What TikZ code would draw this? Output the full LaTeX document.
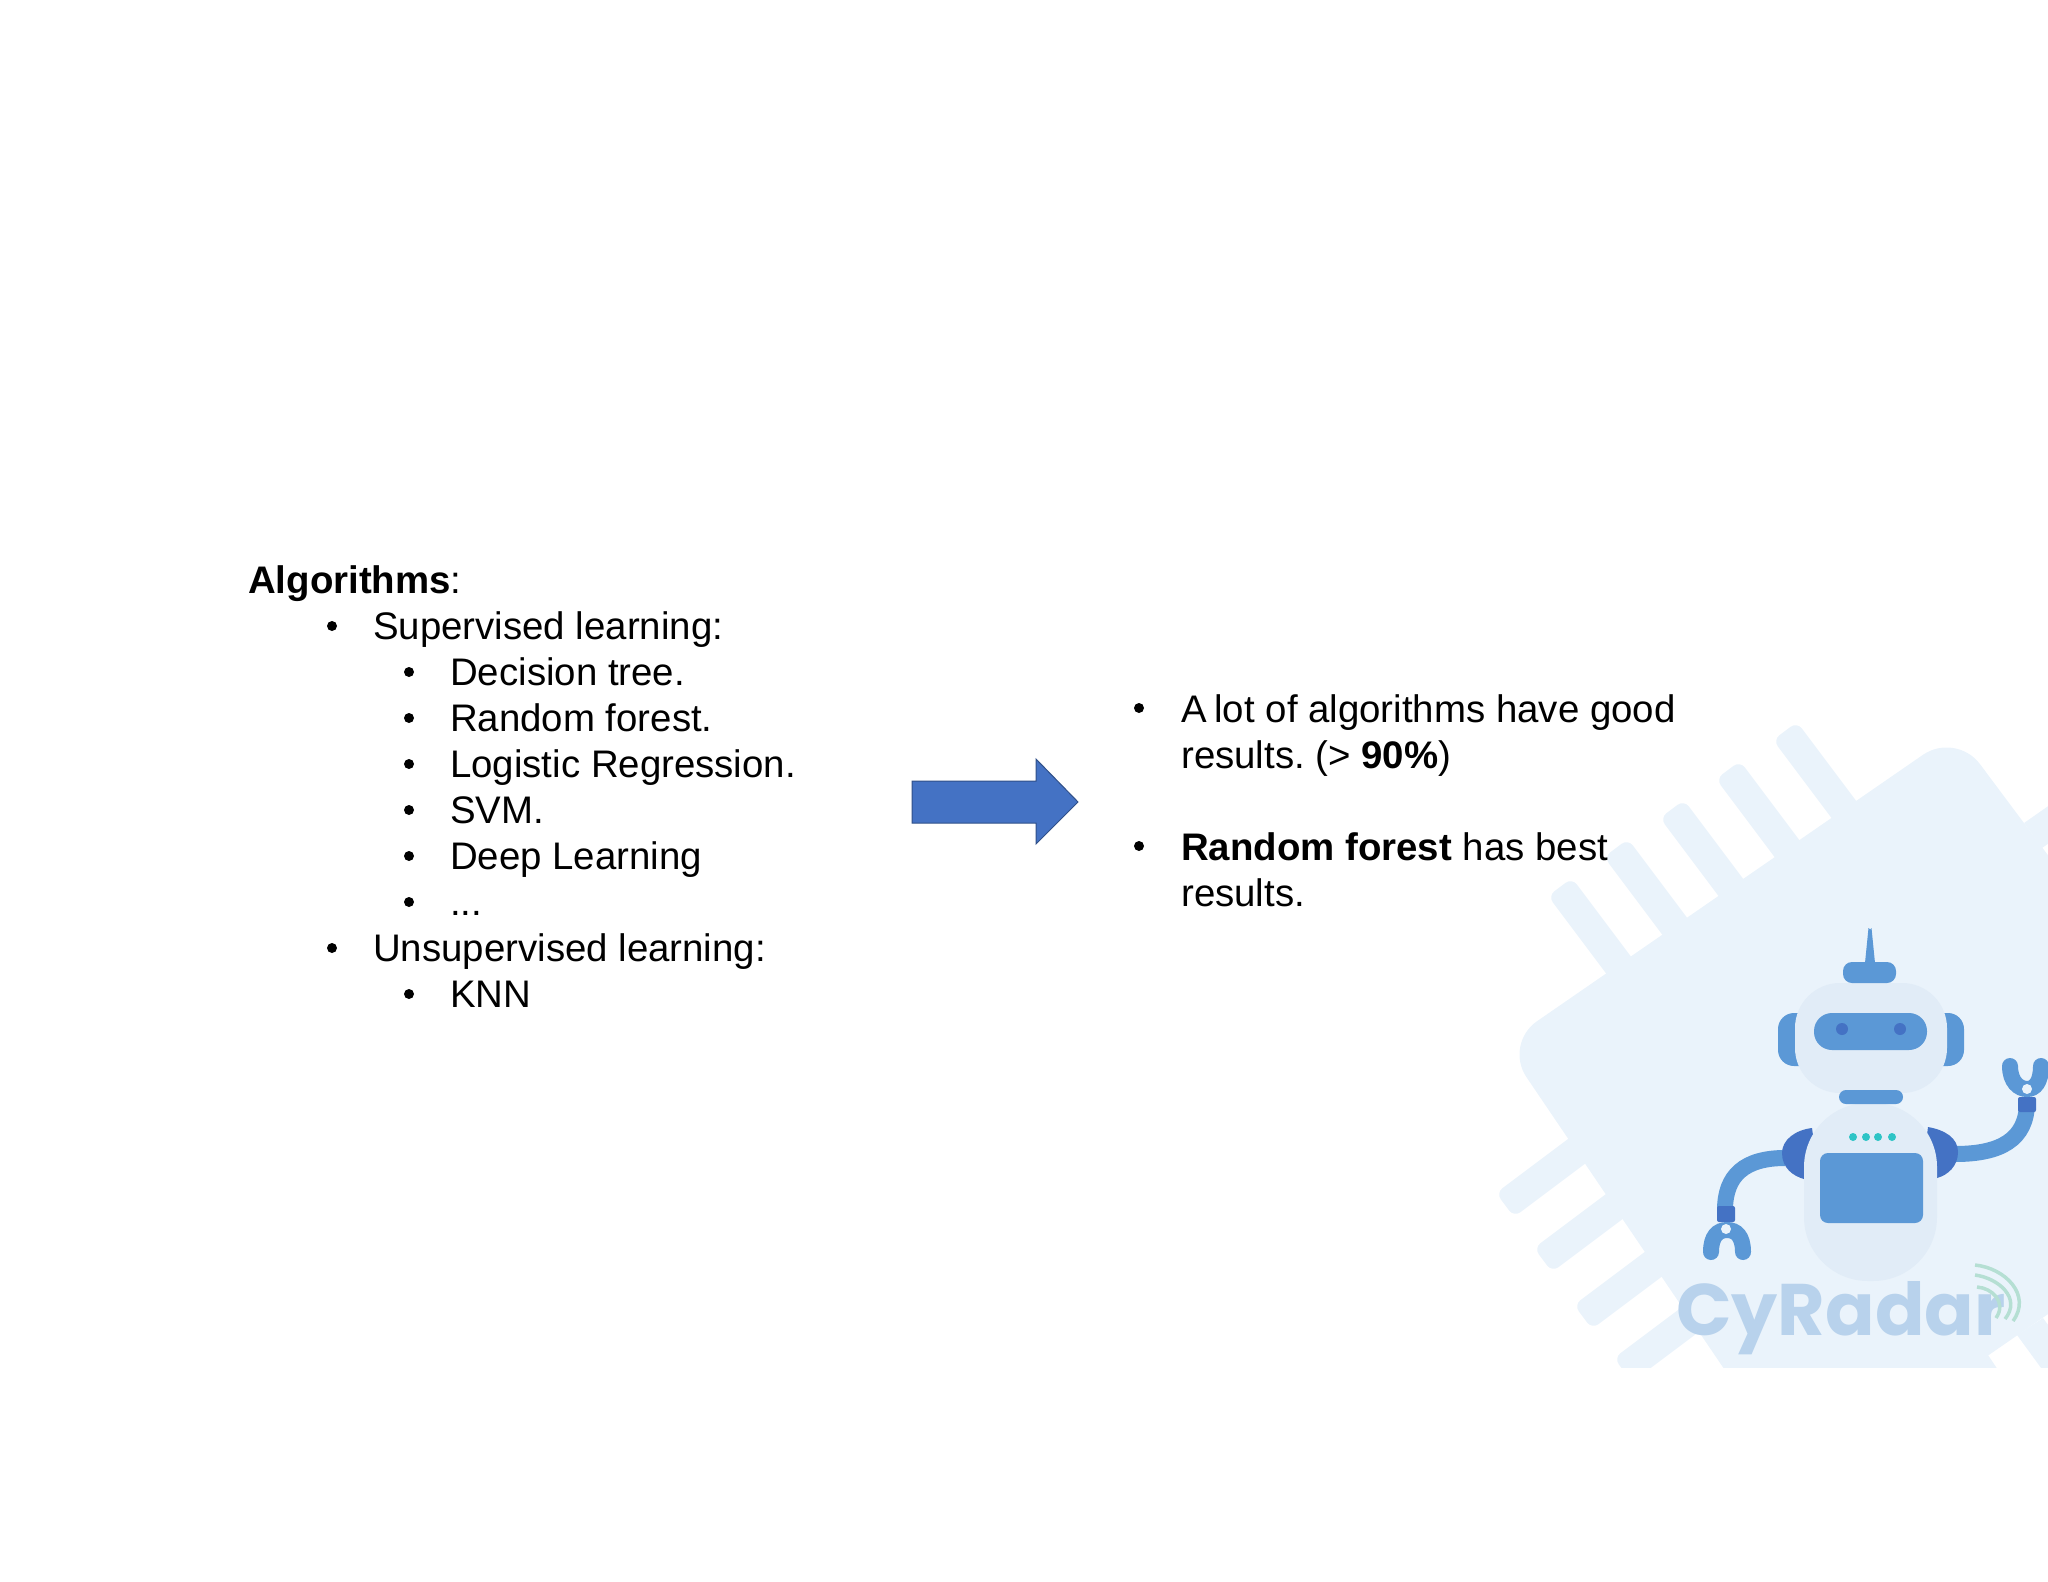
\documentclass[tikz,border=0pt]{standalone}
\usepackage{fontspec}
\setmainfont{Liberation Sans}
\newfontfamily\logofont{Poppins}
\frenchspacing
\definecolor{chipbg}{HTML}{EAF3FB}
\definecolor{robothead}{HTML}{E1ECF7}
\definecolor{robotblue}{HTML}{5B98D6}
\definecolor{robotdark}{HTML}{4472C4}
\definecolor{robotteal}{HTML}{2EC4C6}
\definecolor{logoblue}{HTML}{B8D2EC}
\definecolor{logogreen}{HTML}{B5DFD3}
\tikzset{
  listitem/.style={anchor=base west,inner sep=0pt,font=\fontsize{38.4}{46}\selectfont},
  armline/.style={robotblue,line width=16pt},
  clawline/.style={robotblue,line width=16pt,line cap=round},
  waveline/.style={logogreen,line width=3.5pt},
}
\begin{document}
\begin{tikzpicture}[x=1pt,y=-1pt]
	\useasboundingbox (0,0) rectangle (2048,1582);
	% chip behind the robot
	\begin{scope}
		\clip (1400,700) rectangle (2048,1367);
		\fill[chipbg,rounded corners=40pt] (1504,1044) -- (1956,732) -- (2274,1158) -- (1802,1484) -- cycle;
		\foreach \px/\py in {1548/896,1604/857,1660/818,1716/779,1773/740}
			\fill[chipbg,rounded corners=8pt] (\px,\py) -- ++(66,88) -- ++(24,-18) -- ++(-66,-88) -- cycle;
		\foreach \px/\py in {1496/1193,1534/1248,1574/1305,1614/1358}
			\fill[chipbg,rounded corners=8pt] (\px,\py) -- ++(88,-66) -- ++(18,24) -- ++(-88,66) -- cycle;
		\fill[chipbg] (1988,1355) -- (2008,1385) -- (1950,1385) -- (1950,1340) -- cycle;
		\fill[chipbg] (2017,1335) -- (2043,1318) -- (2070,1355) -- (2044,1372) -- cycle;
		\fill[chipbg] (2024,823) -- (2064,795) -- (2082,820) -- (2042,848) -- cycle;
	\end{scope}
	% robot
	\begin{scope}
		\clip (1600,900) rectangle (2048,1367);
		\fill[robotblue,rounded corners=16pt] (1778,1013) rectangle (1815,1066);
		\fill[robotblue,rounded corners=16pt] (1927,1013) rectangle (1964,1066);
		\fill[robothead,rounded corners=45pt] (1795,983) rectangle (1947,1093);
		\fill[robotblue] (1865,963) -- (1868.5,928) arc (180:0:1.5) -- (1875,963) -- cycle;
		\fill[robotblue,rounded corners=9pt] (1843,962) rectangle (1896,983);
		\fill[robotblue,rounded corners=18pt] (1814,1013) rectangle (1927,1050);
		\node[circle,fill=robotdark,inner sep=0pt,minimum size=12pt] (eyeL) at (1842,1029) {};
		\node[circle,fill=robotdark,inner sep=0pt,minimum size=12pt] (eyeR) at (1900,1029) {};
		\draw[armline] (1785,1158) .. controls (1745,1158) and (1725,1175) .. (1725,1210);
		\draw[armline] (1955,1154) .. controls (2000,1154) and (2027,1140) .. (2027,1102);
		\fill[robotdark] (1812,1128) .. controls (1795,1130) and (1782,1140) .. (1782,1153) .. controls (1782,1168) and (1793,1176) .. (1804,1179) -- (1815,1150) -- cycle;
		\fill[robotdark] (1928,1127) .. controls (1945,1130) and (1958,1138) .. (1958,1152) .. controls (1958,1166) and (1948,1175) .. (1937,1178) -- (1925,1150) -- cycle;
		\fill[robothead,rounded corners=64pt] (1804,1103) rectangle (1937,1281);
		\fill[robotblue,rounded corners=7pt] (1839,1090) rectangle (1903,1104);
		\fill[robotblue,rounded corners=8pt] (1820,1153) rectangle (1923,1223);
		\foreach \dx in {1853,1866,1878,1892}
			\fill[robotteal] (\dx,1137) circle (4);
		\fill[robotdark,rounded corners=2pt] (1717,1206) rectangle (1735,1222);
		\fill[robotdark,rounded corners=2pt] (2018,1097) rectangle (2036,1112);
		\draw[clawline] (1711,1252) .. controls (1711,1236) and (1718,1230) .. (1727,1230) .. controls (1736,1230) and (1743,1236) .. (1743,1252);
		\draw[clawline] (2010,1066) .. controls (2010,1082) and (2019,1089) .. (2027,1089) .. controls (2035,1089) and (2041,1082) .. (2041,1066);
		\fill[chipbg] (1726,1229) circle (5);
		\fill[chipbg] (2027,1089) circle (5);
	\end{scope}
	% logo
	\node[anchor=base west,inner sep=0pt,logoblue,font=\logofont\bfseries\fontsize{73}{73}\selectfont] (logo) at (1676,1335) {CyRadar};
	\draw[waveline] (1975,1265) .. controls (2005,1268) and (2032,1295) .. (2013,1321);
	\draw[waveline] (1975,1275) .. controls (1998,1278) and (2022,1298) .. (2005,1319);
	\draw[waveline] (1977,1287) .. controls (1992,1288) and (2007,1302) .. (1996,1318);
	% list on the left
	\node[listitem] (algo) at (248,593) {\textbf{Algorithms}:};
	\node[listitem] (sup) at (373,639) {Supervised learning:};
	\node[listitem] (dt) at (450,685) {Decision tree.};
	\node[listitem] (rf) at (450,731) {Random forest.};
	\node[listitem] (lr) at (450,777) {Logistic Regression.};
	\node[listitem] (svm) at (450,823) {SVM.};
	\node[listitem] (dl) at (450,869) {Deep Learning};
	\node[listitem] (dots) at (450,915) {...};
	\node[listitem] (uns) at (373,961) {Unsupervised learning:};
	\node[listitem] (knn) at (450,1007) {KNN};
	\foreach \bx/\by in {332/626,332/948,409/672,409/718,409/764,409/810,409/856,409/902,409/994,1139/708,1139/846}
		\fill (\bx,\by) circle (5);
	% arrow
	\draw[draw=robotdark!70!black,fill=robotdark,line width=1pt] (912,781) -- (1036,781) -- (1036,759) -- (1078,802) -- (1036,844) -- (1036,823) -- (912,823) -- cycle;
	% list on the right
	\node[listitem] (lot) at (1181,722) {A\kern-3pt{} lot of algorithms have good};
	\node[listitem] (res) at (1181,768) {results. (> \textbf{90\%})};
	\node[listitem] (best) at (1181,860) {\textbf{Random forest} has best};
	\node[listitem] (res2) at (1181,906) {results.};
\end{tikzpicture}
\end{document}
